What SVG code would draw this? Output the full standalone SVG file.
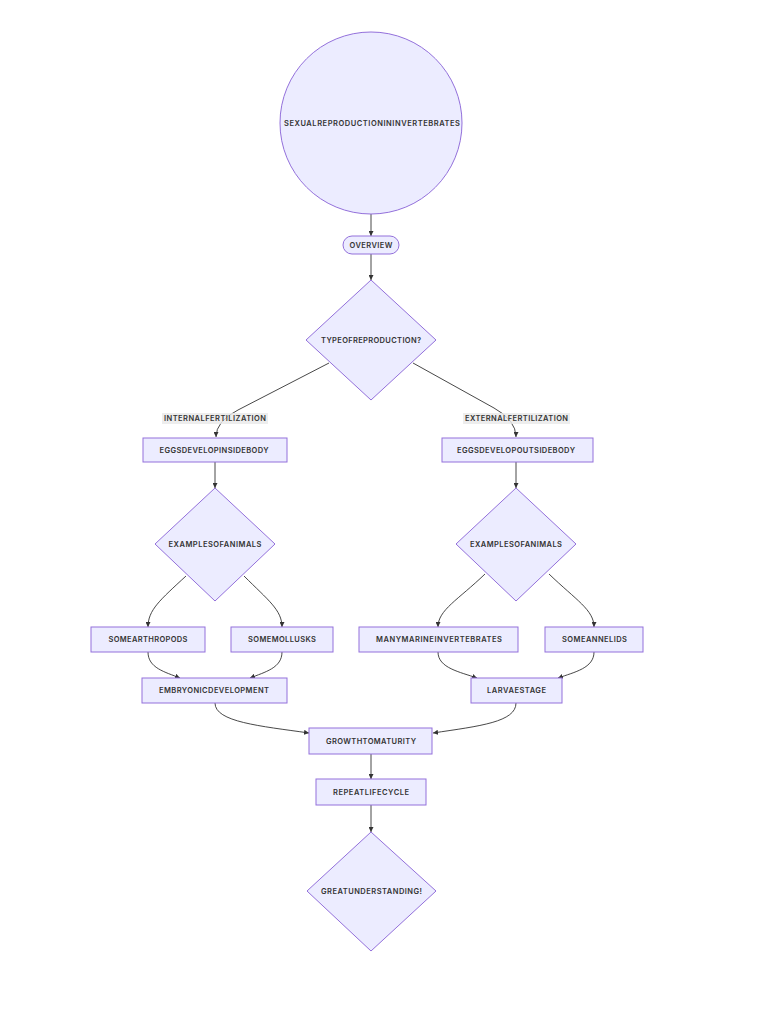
<svg xmlns="http://www.w3.org/2000/svg" width="768" height="1024" viewBox="0 0 768 1024">
<style>
.n{fill:#ECECFF;stroke:#9370DB;stroke-width:1}
.t{font-family:Inter,"Liberation Sans",sans-serif;font-size:7.5px;font-weight:600;fill:#333;text-anchor:middle;dominant-baseline:central}
.e{fill:none;stroke:#333;stroke-width:0.9}
.lb{fill:#e8e8e8;opacity:0.8}
</style>
<defs>
<marker id="a" viewBox="0 0 10 10" refX="10" refY="5" markerWidth="5" markerHeight="5" markerUnits="userSpaceOnUse" orient="auto">
<path d="M0,0 L10,5 L0,10 z" fill="#333"/>
</marker>
</defs>
<rect width="768" height="1024" fill="#fff"/>
<g id="connectors">
<path class="e" d="M371,214 L371,236" marker-end="url(#a)"/>
<path class="e" d="M371,254 L371,280" marker-end="url(#a)"/>
<path class="e" d="M329,363 L238,410 Q216,421 216,437" marker-end="url(#a)"/>
<path class="e" d="M413,363 L494,408 Q516,420 516,437" marker-end="url(#a)"/>
<path class="e" d="M215,462 L215,488" marker-end="url(#a)"/>
<path class="e" d="M516,462 L516,488" marker-end="url(#a)"/>
<path class="e" d="M186,576 C160,600 148,610 148,627" marker-end="url(#a)"/>
<path class="e" d="M244,576 C268,600 282,610 282,627" marker-end="url(#a)"/>
<path class="e" d="M485,574 C458,600 438,610 438,627" marker-end="url(#a)"/>
<path class="e" d="M549,574 C576,600 594,610 594,627" marker-end="url(#a)"/>
<path class="e" d="M148,652 C148,668 165,672 180,678" marker-end="url(#a)"/>
<path class="e" d="M282,652 C282,668 265,672 250,678" marker-end="url(#a)"/>
<path class="e" d="M438,652 C438,668 460,672 477,678" marker-end="url(#a)"/>
<path class="e" d="M594,652 C594,668 575,672 558,678" marker-end="url(#a)"/>
<path class="e" d="M215,703 C215,722 260,726 309,733" marker-end="url(#a)"/>
<path class="e" d="M516,703 C516,722 480,726 433,733" marker-end="url(#a)"/>
<path class="e" d="M371,754 L371,779" marker-end="url(#a)"/>
<path class="e" d="M371,805 L371,832" marker-end="url(#a)"/>
</g>
<g id="edge-labels">
<g id="lbl-internal"><rect class="lb" x="162" y="413" width="106" height="11"/><text class="t" x="215" y="418.5" textLength="102" lengthAdjust="spacing">INTERNALFERTILIZATION</text></g>
<g id="lbl-external"><rect class="lb" x="463" y="413" width="107" height="11"/><text class="t" x="516.5" y="418.5" textLength="103" lengthAdjust="spacing">EXTERNALFERTILIZATION</text></g>
</g>
<g id="start"><circle class="n" cx="371" cy="123" r="91"/><text class="t" x="372" y="123" textLength="176" lengthAdjust="spacing">SEXUALREPRODUCTIONININVERTEBRATES</text></g>
<g id="overview"><rect class="n" x="343" y="236" width="56" height="18" rx="9" ry="9"/><text class="t" x="371" y="245" textLength="43" lengthAdjust="spacing">OVERVIEW</text></g>
<g id="type"><polygon class="n" points="371,280 436,340 371,400 306,340"/><text class="t" x="371" y="340" textLength="100" lengthAdjust="spacing">TYPEOFREPRODUCTION?</text></g>
<g id="inside"><rect class="n" x="143" y="438" width="144" height="24"/><text class="t" x="214" y="450" textLength="109" lengthAdjust="spacing">EGGSDEVELOPINSIDEBODY</text></g>
<g id="outside"><rect class="n" x="442" y="438" width="151" height="24"/><text class="t" x="516" y="450" textLength="118" lengthAdjust="spacing">EGGSDEVELOPOUTSIDEBODY</text></g>
<g id="ex-left"><polygon class="n" points="215,488 275,544 215,601 155,544"/><text class="t" x="215" y="544" textLength="93" lengthAdjust="spacing">EXAMPLESOFANIMALS</text></g>
<g id="ex-right"><polygon class="n" points="516,488 576,544 516,601 456,544"/><text class="t" x="516" y="544" textLength="92" lengthAdjust="spacing">EXAMPLESOFANIMALS</text></g>
<g id="arthropods"><rect class="n" x="91" y="627" width="114" height="25"/><text class="t" x="148" y="639.5" textLength="79" lengthAdjust="spacing">SOMEARTHROPODS</text></g>
<g id="mollusks"><rect class="n" x="231" y="627" width="102" height="25"/><text class="t" x="282" y="639.5" textLength="68" lengthAdjust="spacing">SOMEMOLLUSKS</text></g>
<g id="marine"><rect class="n" x="359" y="627" width="159" height="25"/><text class="t" x="439" y="639.5" textLength="126" lengthAdjust="spacing">MANYMARINEINVERTEBRATES</text></g>
<g id="annelids"><rect class="n" x="545" y="627" width="98" height="25"/><text class="t" x="594.5" y="639.5" textLength="65" lengthAdjust="spacing">SOMEANNELIDS</text></g>
<g id="embryonic"><rect class="n" x="142" y="678" width="145" height="25"/><text class="t" x="214" y="690.5" textLength="110" lengthAdjust="spacing">EMBRYONICDEVELOPMENT</text></g>
<g id="larvae"><rect class="n" x="471" y="678" width="91" height="25"/><text class="t" x="516.5" y="690.5" textLength="59" lengthAdjust="spacing">LARVAESTAGE</text></g>
<g id="growth"><rect class="n" x="309" y="728" width="123" height="26"/><text class="t" x="371" y="741" textLength="90" lengthAdjust="spacing">GROWTHTOMATURITY</text></g>
<g id="repeat"><rect class="n" x="316" y="779" width="110" height="26"/><text class="t" x="371" y="792" textLength="76" lengthAdjust="spacing">REPEATLIFECYCLE</text></g>
<g id="great"><polygon class="n" points="371,832 436,891 371,951 307,891"/><text class="t" x="371.5" y="891" textLength="101" lengthAdjust="spacing">GREATUNDERSTANDING!</text></g>
</svg>
